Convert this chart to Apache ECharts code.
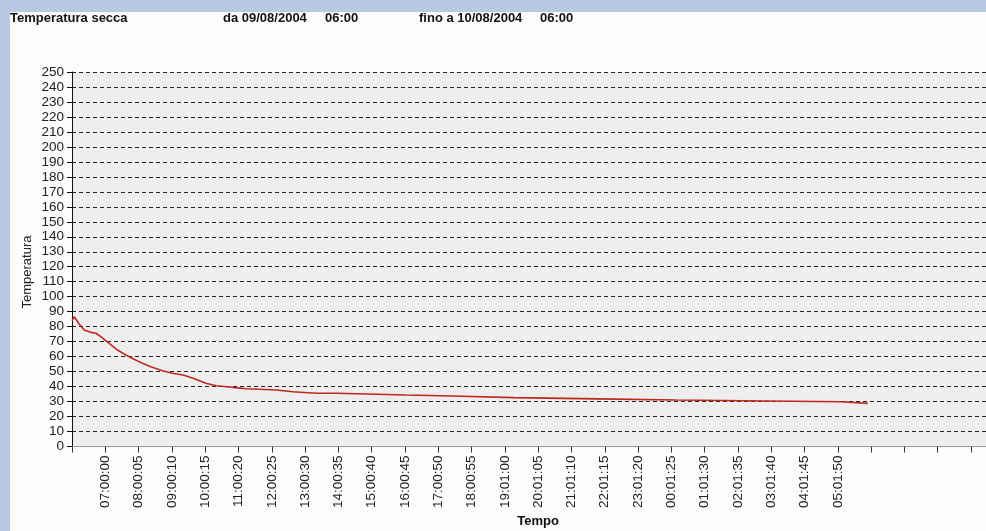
<!DOCTYPE html>
<html>
<head>
<meta charset="utf-8">
<script src="https://cdn.jsdelivr.net/npm/echarts@6/dist/echarts.min.js"></script>
<style>
html, body { margin: 0; padding: 0; background: #b9c9e2; width: 986px; height: 531px; overflow: hidden; }
#chart { position: absolute; left: 10px; top: 12px; width: 976px; height: 519px; background: #fcfcfc; }
</style>
</head>
<body>
<div id="chart"></div>
<script>
// minutes since 09/08/2004 06:00
var minutes = [0, 4, 13, 22, 34, 43, 52, 67, 82, 97, 112, 127, 142, 163, 181, 200, 206, 223, 241, 260,
	289, 314, 338, 368, 398, 440, 476, 478, 602, 604, 685, 687, 797, 799, 947, 949, 1089, 1091,
	1251, 1253, 1386, 1388, 1434];
var temperatura = [84, 86.6, 81.8, 77.8, 76.2, 75.6, 73.3, 68.9, 64.4, 61.1, 58.2, 55.5, 53.3, 50.6, 48.9, 47.7, 47.1, 44.9, 42.2, 40.6,
	39.5, 38.6, 38.2, 37.7, 36.6, 35.5, 35.5, 34.4, 34.4, 33.7, 33.7, 32.6, 32.6, 31.8, 31.8, 31.0, 31.0, 30.4,
	30.4, 29.9, 29.9, 28.8, 28.8];
// one label per hour tick (first tick = 1h after start)
var tickLabels = ['07:00:00', '08:00:05', '09:00:10', '10:00:15', '11:00:20', '12:00:25', '13:00:30', '14:00:35',
	'15:00:40', '16:00:45', '17:00:50', '18:00:55', '19:01:00', '20:01:05', '21:01:10', '22:01:15',
	'23:01:20', '00:01:25', '01:01:30', '02:01:35', '03:01:40', '04:01:45', '05:01:50'];

var dataLine = [];
for (var i = 0; i < minutes.length; i++) {
	dataLine.push([minutes[i], temperatura[i]]);
}

var myChart = echarts.init(document.getElementById('chart'));
var font = 'Liberation Sans, Arial, sans-serif';

var option = {
	animation: false,
	graphic: [
		{ type: 'text', left: 0, top: 0, style: { text: 'Temperatura secca', font: 'bold 13px ' + font, fill: '#111' } },
		{ type: 'text', left: 213, top: 0, style: { text: 'da 09/08/2004', font: 'bold 13px ' + font, fill: '#111' } },
		{ type: 'text', left: 315, top: 0, style: { text: '06:00', font: 'bold 13px ' + font, fill: '#111' } },
		{ type: 'text', left: 409, top: 0, style: { text: 'fino a 10/08/2004', font: 'bold 13px ' + font, fill: '#111' } },
		{ type: 'text', left: 530, top: 0, style: { text: '06:00', font: 'bold 13px ' + font, fill: '#111' } },
		{ type: 'text', x: 17.5, y: 260, rotation: Math.PI / 2,
			style: { text: 'Temperatura', font: '13px ' + font, fill: '#222', align: 'center', verticalAlign: 'middle' } },
		{ type: 'text', x: 528, y: 509,
			style: { text: 'Tempo', font: 'bold 13px ' + font, fill: '#111', align: 'center', verticalAlign: 'middle' } }
	],
	grid: {
		left: 62, top: 60, right: 0, bottom: 84.5
	},
	xAxis: {
		type: 'value',
		min: 0, max: 1647, interval: 60,
		axisLine: { show: true, lineStyle: { color: '#999', width: 1 } },
		axisTick: { show: true, length: 6, lineStyle: { color: '#333' } },
		axisLabel: {
			rotate: 90, margin: 9, color: '#222', fontSize: 13.5, fontFamily: font,
			showMaxLabel: false,
			formatter: function (v) { return tickLabels[Math.round(v / 60) - 1] || ''; }
		},
		splitLine: { show: false }
	},
	yAxis: {
		type: 'value',
		min: 0, max: 250, interval: 10,
		axisLine: { show: true, lineStyle: { color: '#111', width: 1 } },
		axisTick: { show: true, length: 5, lineStyle: { color: '#111' } },
		axisLabel: { margin: 8, color: '#222', fontSize: 13.5, fontFamily: font },
		splitLine: { show: true, lineStyle: { color: '#222', type: [4, 3], width: 1 } },
		splitArea: { show: true, areaStyle: { color: ['#eeeeee', '#eeeeee'] } }
	},
	series: [{
		type: 'line',
		data: dataLine,
		showSymbol: false,
		lineStyle: { color: '#c0281e', width: 1.6 },
		z: 5
	}]
};
myChart.setOption(option);
</script>
</body>
</html>
